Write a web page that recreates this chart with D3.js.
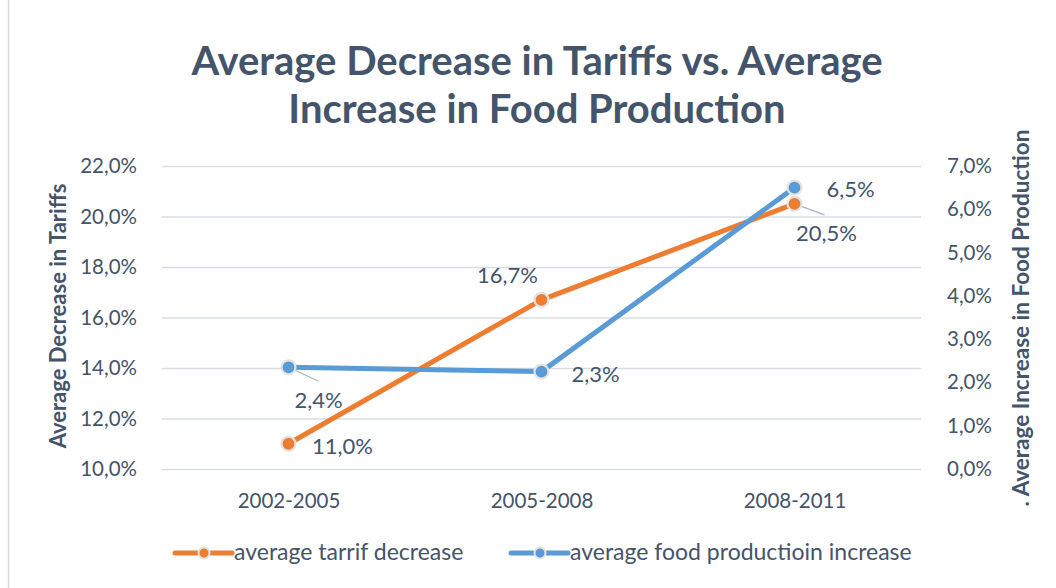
<!DOCTYPE html>
<html><head><meta charset="utf-8">
<script src="https://cdn.jsdelivr.net/npm/d3@7"></script>
<style>body{margin:0;background:#fff}svg{display:block}text{font-family:Lato,"Open Sans",sans-serif}</style>
</head><body><svg id="c" width="1056" height="588"></svg>
<script>
const categories = ["2002-2005","2005-2008","2008-2011"];
const tariffDecrease = [11.0, 16.7, 20.5];
const foodIncrease = [2.35, 2.25, 6.5];
const leftTicks = [10,12,14,16,18,20,22];
const rightTicks = [0,1,2,3,4,5,6,7];
const seriesNames = ["average tarrif decrease","average food productioin increase"];
const titleLines = ["Average Decrease in Tariffs vs. Average","Increase in Food Production"];

const svg = d3.select("#c");
const txt = "#44546a", grid = "#d9dde3", orange = "#ed7d31", blue = "#5b9bd5";
const loc = d3.formatLocale({decimal:",",thousands:".",grouping:[3],currency:["",""]});
const f1 = loc.format(".1f");
const lab = v => f1(v) + "%";

svg.append("line").attr("x1",8.5).attr("x2",8.5).attr("y1",0).attr("y2",588).attr("stroke","#d9d9d9").attr("stroke-width",1.5);

const L=162, R=921, T=166, B=469;
const x = d3.scalePoint().domain(categories).range([L,R]).padding(0.5);
const yL = d3.scaleLinear().domain([10,22]).range([B,T]);
const yR = d3.scaleLinear().domain([0,7]).range([B,T]);

// title
svg.append("g").selectAll("text").data(titleLines).join("text")
  .attr("x",537).attr("y",(d,i)=>75+i*48).attr("text-anchor","middle")
  .attr("font-size",40).attr("font-weight","bold").attr("fill",txt).text(d=>d);

// grid
svg.append("g").selectAll("line").data(leftTicks).join("line")
  .attr("x1",L).attr("x2",R).attr("y1",d=>yL(d)+0.5).attr("y2",d=>yL(d)+0.5)
  .attr("stroke",grid).attr("stroke-width",1.3);

// axes
const gl = svg.append("g").attr("transform",`translate(${L-22},0)`)
  .call(d3.axisLeft(yL).tickValues(leftTicks).tickFormat(lab).tickSize(0));
const gr = svg.append("g").attr("transform",`translate(${R+23},0)`)
  .call(d3.axisRight(yR).tickValues(rightTicks).tickFormat(lab).tickSize(0));
const gb = svg.append("g").attr("transform",`translate(0,${B+21})`)
  .call(d3.axisBottom(x).tickSize(0));
[gl,gr,gb].forEach(g=>{g.select(".domain").remove();
  g.selectAll("text").attr("font-size",20.5).attr("fill",txt).attr("font-family","Lato,'Open Sans',sans-serif");});
gl.selectAll("text").attr("dx",0);
gb.selectAll("text").attr("dy","0.71em");

// axis titles
svg.append("text").attr("transform",`translate(66,316) rotate(-90)`).attr("text-anchor","middle")
  .attr("font-size",22).attr("font-weight","bold").attr("fill",txt).text("Average Decrease in Tariffs");
svg.append("text").attr("transform",`translate(1029,318) rotate(-90)`).attr("text-anchor","middle")
  .attr("font-size",22.5).attr("font-weight","bold").attr("fill",txt).text(". Average Increase in Food Production");

// lines
const lineL = d3.line().x((d,i)=>x(categories[i])).y(d=>yL(d));
const lineR = d3.line().x((d,i)=>x(categories[i])).y(d=>yR(d));
svg.append("path").datum(tariffDecrease).attr("d",lineL).attr("fill","none").attr("stroke",orange).attr("stroke-width",5).attr("stroke-linecap","round").attr("stroke-linejoin","round");
svg.append("path").datum(foodIncrease).attr("d",lineR).attr("fill","none").attr("stroke",blue).attr("stroke-width",5).attr("stroke-linecap","round").attr("stroke-linejoin","round");

// leader lines
const leaders = [
  {sx:x(categories[0]), sy:yR(foodIncrease[0]), dx:30, dy:14},
  {sx:x(categories[2]), sy:yL(tariffDecrease[2]), dx:30, dy:11}
];
svg.append("g").selectAll("line").data(leaders).join("line")
  .attr("x1",d=>d.sx).attr("y1",d=>d.sy).attr("x2",d=>d.sx+d.dx).attr("y2",d=>d.sy+d.dy)
  .attr("stroke","#a6b4c8").attr("stroke-width",1.3);

// markers
function markers(data, y, color){
  svg.append("g").selectAll("circle").data(data).join("circle")
    .attr("cx",(d,i)=>x(categories[i])).attr("cy",d=>y(d)).attr("r",7)
    .attr("fill",color).attr("stroke","#e3e3e3").attr("stroke-width",2.2);
}
markers(foodIncrease, yR, blue);
markers(tariffDecrease, yL, orange);

// data labels
const offsL = [{dx:54,dy:10},{dx:-34,dy:-17},{dx:32,dy:37}];
const offsR = [{dx:30,dy:41},{dx:54,dy:10},{dx:56,dy:9}];
const dl = svg.append("g");
dl.selectAll("text.t").data(tariffDecrease).join("text").attr("class","t")
  .attr("x",(d,i)=>x(categories[i])+offsL[i].dx).attr("y",(d,i)=>yL(d)+offsL[i].dy)
  .attr("text-anchor","middle").attr("font-size",22).attr("fill",txt).text(lab);
dl.selectAll("text.f").data(foodIncrease).join("text").attr("class","f")
  .attr("x",(d,i)=>x(categories[i])+offsR[i].dx).attr("y",(d,i)=>yR(d)+offsR[i].dy)
  .attr("text-anchor","middle").attr("font-size",22).attr("fill",txt).text(lab);

// legend
const leg = [{name:seriesNames[0],color:orange,x:175},{name:seriesNames[1],color:blue,x:511}];
const lg = svg.append("g").selectAll("g").data(leg).join("g").attr("transform",d=>`translate(${d.x},553)`);
lg.append("line").attr("x1",0).attr("x2",57).attr("stroke",d=>d.color).attr("stroke-width",5).attr("stroke-linecap","round");
lg.append("circle").attr("cx",29).attr("r",5.5).attr("fill",d=>d.color).attr("stroke","#e3e3e3").attr("stroke-width",2);
lg.append("text").attr("x",59).attr("y",7).attr("font-size",23).attr("fill",txt).text(d=>d.name);
</script></body></html>
